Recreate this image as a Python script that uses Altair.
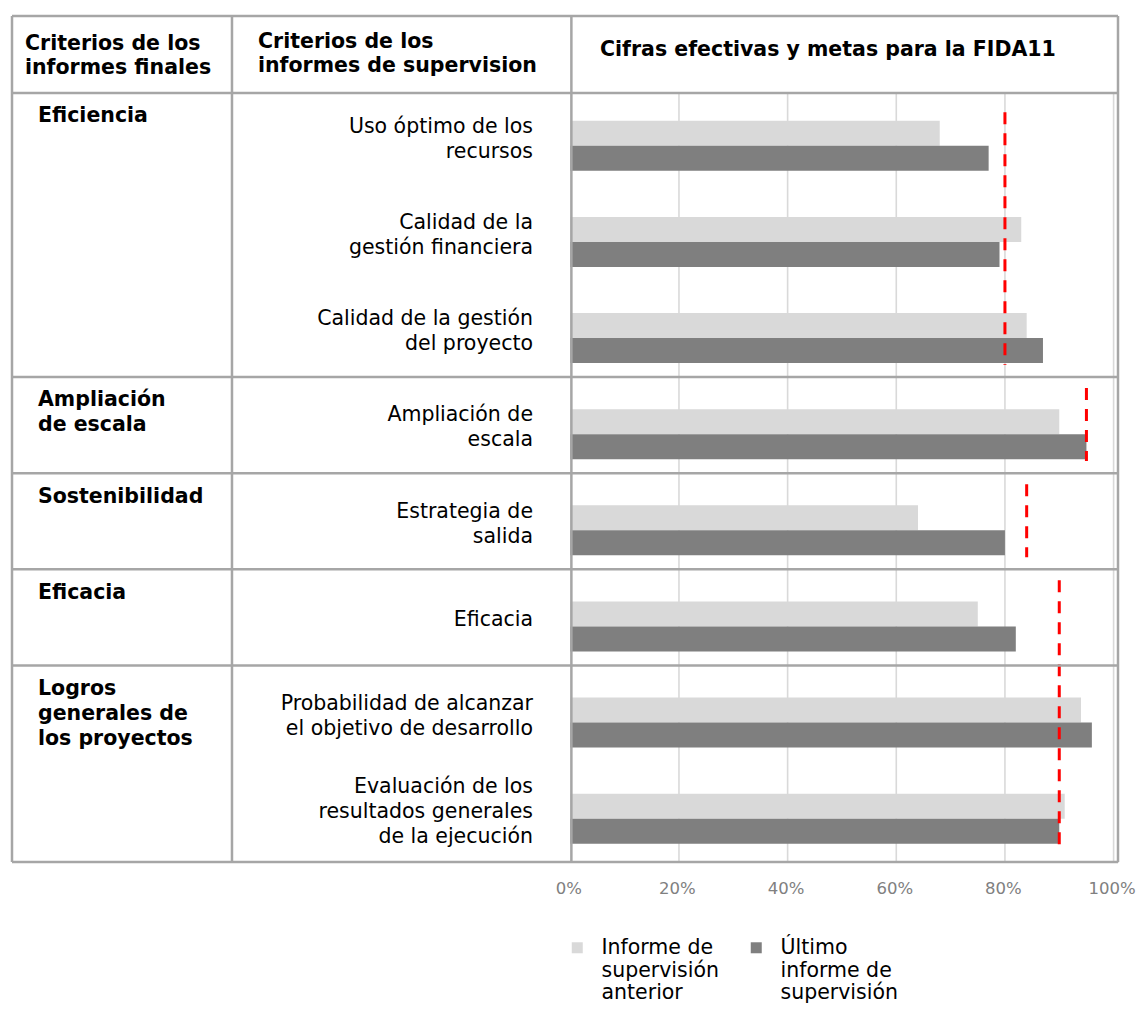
import altair as alt
import pandas as pd

# ---------------- data ----------------
grupos = ["Eficiencia", "Ampliación\nde escala", "Sostenibilidad", "Eficacia",
          "Logros\ngenerales de\nlos proyectos"]
grupo_tamano = [3, 1, 1, 1, 2]
criterios = ["Uso óptimo de los\nrecursos", "Calidad de la\ngestión financiera",
             "Calidad de la gestión\ndel proyecto", "Ampliación de\nescala",
             "Estrategia de\nsalida", "Eficacia",
             "Probabilidad de alcanzar\nel objetivo de desarrollo",
             "Evaluación de los\nresultados generales\nde la ejecución"]
serie_anterior = "Informe de supervisión anterior"
serie_ultimo = "Último informe de supervisión"
anterior = [68, 83, 84, 90, 64, 75, 94, 91]
ultimo = [77, 79, 87, 95, 80, 82, 96, 90]
# targets (FIDA11) and the groups each dashed line covers
metas = [80, 95, 84, 90]
metas_grupos = [[0], [1], [2], [3, 4]]
ticks_x = [0, 20, 40, 60, 80, 100]

# ---------------- layout helpers ----------------
W, H = 1106, 846
XMIN, XMAX = -102.76, 100.81
COL2, COL3 = -62.27, 0.2
YTOP, YBOT = -0.8, len(criterios)
UNIT = H / (YBOT - YTOP)
BORDER = "#a6a6a6"
FONT = "DejaVu Sans"
FS = 20.5
LH = 25

starts = []
s = 0
for n in grupo_tamano:
    starts.append(s)
    s += n
bordes = [st - 0.045 if st > 0 else 0 for st in starts]

rows = []
for i, c in enumerate(criterios):
    rows.append({"serie": serie_anterior, "valor": anterior[i], "cero": 0, "y0": i + 0.29, "y1": i + 0.55})
    rows.append({"serie": serie_ultimo, "valor": ultimo[i], "cero": 0, "y0": i + 0.55, "y1": i + 0.81})
bars_df = pd.DataFrame(rows)

labels_df = pd.DataFrame({
    "texto": criterios,
    "yc": [i + 0.5 - (c.count("\n") * LH / 2) / UNIT for i, c in enumerate(criterios)]})
groups_df = pd.DataFrame({"texto": grupos, "ytop": bordes})

meta_rows = []
for v, gs in zip(metas, metas_grupos):
    a = starts[gs[0]]
    b = starts[gs[-1]] + grupo_tamano[gs[-1]]
    meta_rows.append({"meta": v, "y0": a + (0.2 if a == 0 else 0.07), "y1": b - 0.17})
metas_df = pd.DataFrame(meta_rows)

hlines_df = pd.DataFrame({"y": [YTOP] + bordes + [YBOT]})
vlines_df = pd.DataFrame({"x": [XMIN, COL2, COL3, XMAX]})
grid_df = pd.DataFrame({"x": [t for t in ticks_x if t > 0]})
grid_df["y0"] = 0
grid_df["y1"] = YBOT

xs = alt.Scale(domain=[XMIN, XMAX], nice=False, zero=False)
ys = alt.Scale(domain=[YTOP, YBOT], nice=False, zero=False, reverse=True)
xaxis = alt.Axis(values=ticks_x, labelExpr="datum.value + '%'", grid=False,
                 domain=False, ticks=False, labelColor="#808080", labelFlush=False,
                 labelFontSize=16.5, labelFont=FONT, labelPadding=18, labelOffset=-2,
                 title=None)

grid = alt.Chart(grid_df).mark_rule(color="#d9d9d9", strokeWidth=1.6).encode(
    x=alt.X("x:Q", scale=xs, axis=xaxis),
    y=alt.Y("y0:Q", scale=ys, axis=None), y2="y1:Q")

# symbol drawn slightly above its anchor so it lines up with the first label line
sym_path = "M-1,-2.2L1,-2.2L1,-0.2L-1,-0.2Z"

bars = alt.Chart(bars_df).mark_bar().encode(
    x=alt.X("valor:Q", scale=xs, axis=xaxis),
    x2="cero:Q",
    y=alt.Y("y0:Q", scale=ys, axis=None), y2="y1:Q",
    color=alt.Color("serie:N",
                    scale=alt.Scale(domain=[serie_anterior, serie_ultimo],
                                    range=["#d9d9d9", "#7f7f7f"]),
                    legend=alt.Legend(
                        title=None, orient="none", legendX=555, legendY=928,
                        direction="horizontal", symbolType=sym_path, symbolSize=121,
                        symbolStrokeWidth=0, labelFontSize=FS, labelFont=FONT,
                        labelColor="#000000", labelOffset=14, columnPadding=27,
                        padding=0, labelBaseline="alphabetic", labelLimit=300,
                        labelExpr="datum.label == '" + serie_anterior +
                                  "' ? ['Informe de', 'supervisión', 'anterior'] : ['Último', 'informe de', 'supervisión']")),
)

metas_layer = alt.Chart(metas_df).mark_rule(color="#ff0000", strokeWidth=3, strokeDash=[12, 9]).encode(
    x=alt.X("meta:Q", scale=xs, axis=xaxis), y=alt.Y("y0:Q", scale=ys, axis=None), y2="y1:Q")

hlines = alt.Chart(hlines_df).mark_rule(color=BORDER, strokeWidth=2.5).encode(
    y=alt.Y("y:Q", scale=ys, axis=None), x=alt.value(0), x2=alt.value(W))
vlines = alt.Chart(vlines_df).mark_rule(color=BORDER, strokeWidth=2.5).encode(
    x=alt.X("x:Q", scale=xs, axis=xaxis), y=alt.value(0), y2=alt.value(H))

crit_text = alt.Chart(labels_df).mark_text(
    align="right", baseline="middle", lineBreak="\n", lineHeight=LH,
    fontSize=FS, font=FONT, color="#000000", dy=-1.5).encode(
    x=alt.value(521), y=alt.Y("yc:Q", scale=ys, axis=None), text="texto:N")

grp_text = alt.Chart(groups_df).mark_text(
    align="left", baseline="alphabetic", lineBreak="\n", lineHeight=LH,
    fontSize=FS, font=FONT, fontWeight="bold", color="#000000", dy=29.5).encode(
    x=alt.value(26), y=alt.Y("ytop:Q", scale=ys, axis=None), text="texto:N")

hdr1 = alt.Chart(pd.DataFrame({"t": ["Criterios de los\ninformes finales"]})).mark_text(
    align="left", baseline="alphabetic", lineBreak="\n", lineHeight=24,
    fontSize=FS, font=FONT, fontWeight="bold", color="#000000").encode(
    x=alt.value(13), y=alt.value(33.5), text="t:N")
hdr2 = alt.Chart(pd.DataFrame({"t": ["Criterios de los\ninformes de supervision"]})).mark_text(
    align="left", baseline="alphabetic", lineBreak="\n", lineHeight=24,
    fontSize=FS, font=FONT, fontWeight="bold", color="#000000").encode(
    x=alt.value(246), y=alt.value(31.5), text="t:N")
hdr3 = alt.Chart(pd.DataFrame({"t": ["Cifras efectivas y metas para la FIDA11"]})).mark_text(
    align="left", baseline="alphabetic",
    fontSize=FS, font=FONT, fontWeight="bold", color="#000000").encode(
    x=alt.value(588), y=alt.value(39.5), text="t:N")

chart = alt.layer(grid, bars, metas_layer, hlines, vlines, crit_text, grp_text,
                  hdr1, hdr2, hdr3).properties(
    width=W, height=H, padding={"left": 2, "top": 6, "right": 0, "bottom": 5}
).configure_view(stroke=None).configure(background="white")

chart.save("out.html", embed_options={"renderer": "svg", "actions": False})
